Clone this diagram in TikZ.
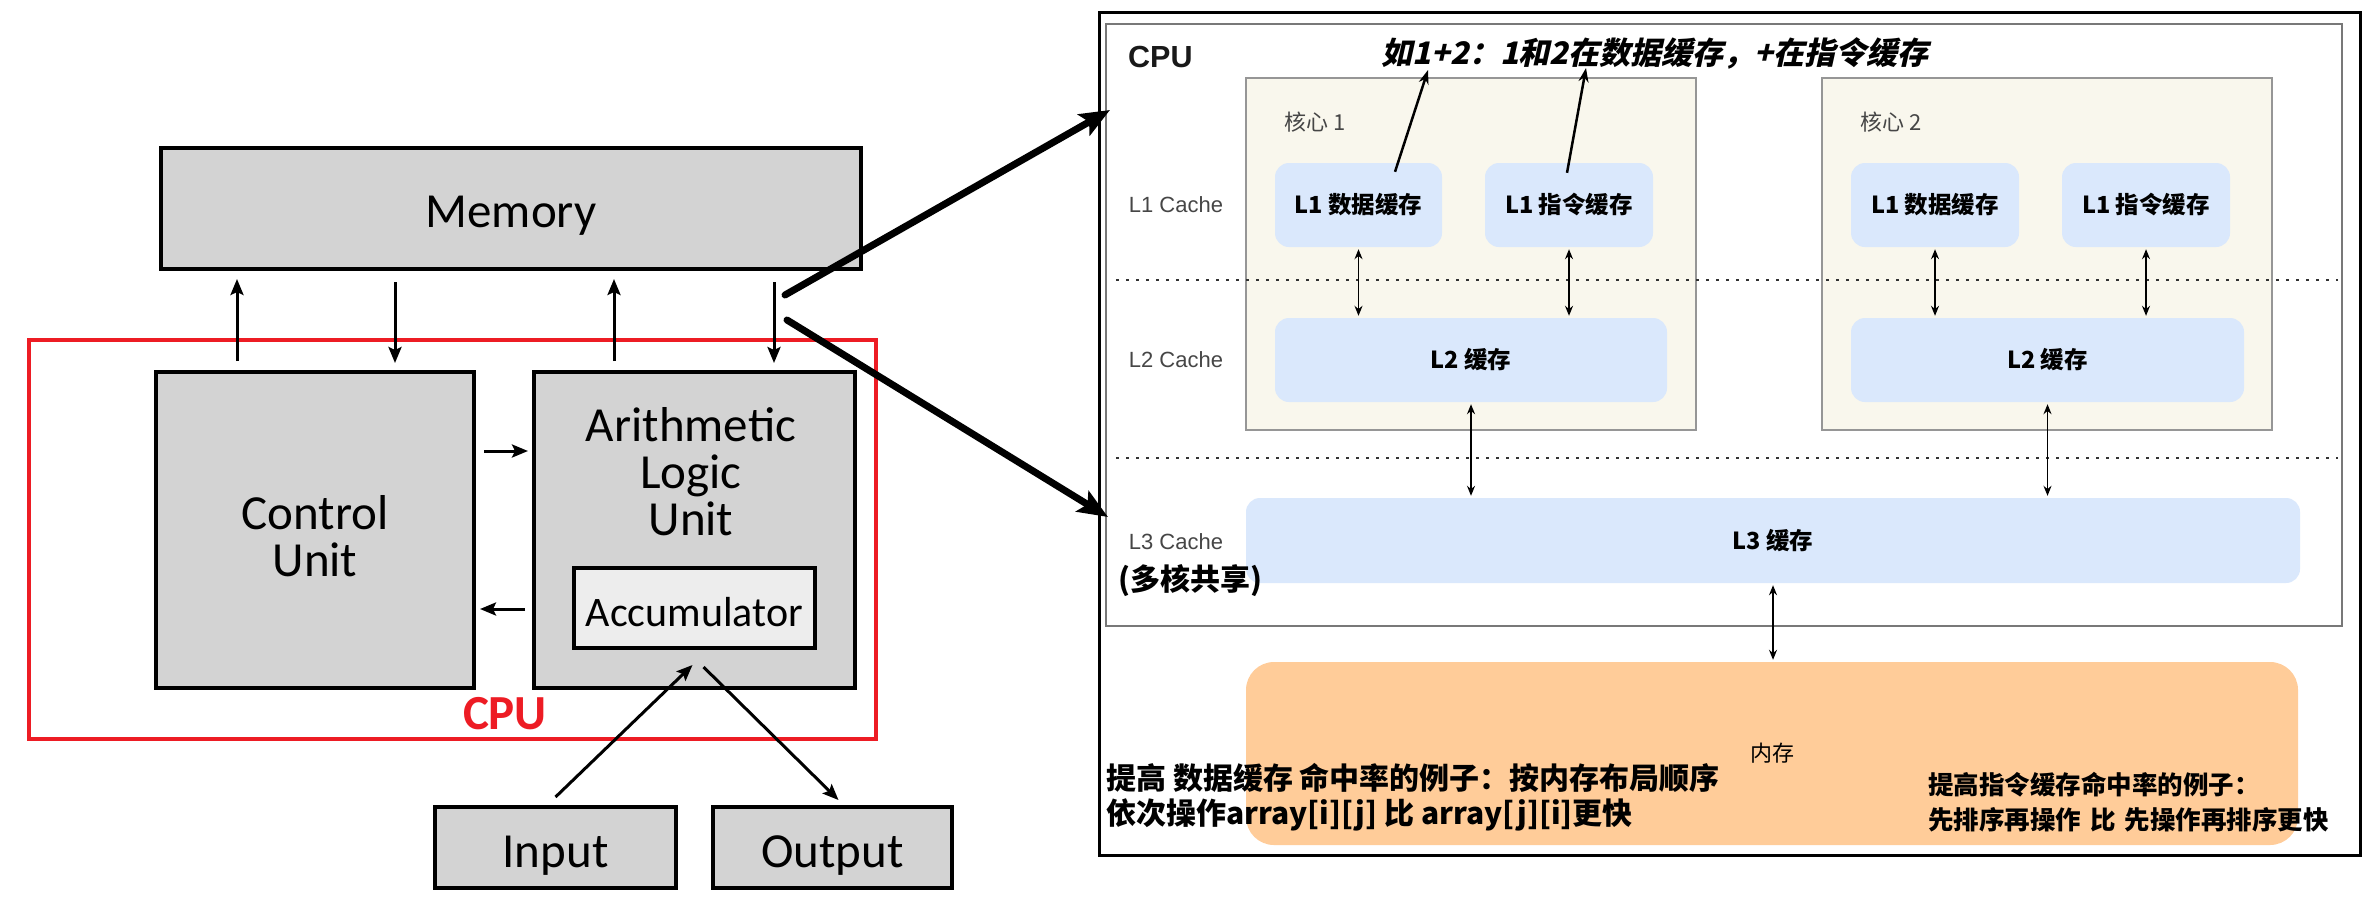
\documentclass[tikz,border=0pt]{standalone}
\usepackage{fontspec}
\setmainfont{Carlito}
\newfontfamily\lib{Liberation Sans}
\newfontfamily\cjk{Noto Sans CJK SC}
\newfontfamily\cjkbi{Noto Sans CJK SC}[FakeSlant=0.22]
\usetikzlibrary{arrows.meta,calc}
\definecolor{boxgray}{RGB}{211,211,211}
\definecolor{accgray}{RGB}{237,237,237}
\definecolor{cpured}{RGB}{237,28,36}
\definecolor{corefill}{RGB}{249,247,237}
\definecolor{coreline}{RGB}{150,150,150}
\definecolor{innerline}{RGB}{120,120,120}
\definecolor{cachefill}{RGB}{218,232,252}
\definecolor{memfill}{RGB}{255,204,153}
\definecolor{labgray}{RGB}{70,70,70}
\begin{document}
\begin{tikzpicture}[x=1pt,y=-1pt,
  gbox/.style={draw=black, line width=4pt, fill=boxgray, inner sep=0pt, outer sep=0pt},
  gtext/.style={inner sep=0pt, align=center, font=\fontsize{49}{47}\selectfont},
  larr/.style={line width=3pt, -{Stealth[length=16pt,width=13pt,inset=3pt]}},
  bigarr/.style={line width=7pt, line cap=round, -{Stealth[length=30pt,width=24pt,inset=6pt]}},
  core/.style={draw=coreline, line width=1.5pt, fill=corefill, inner sep=0pt},
  cache/.style={fill=cachefill, rounded corners=14pt, inner sep=0pt, minimum height=84pt, font=\cjk\bfseries\fontsize{23.5}{23.5}\selectfont},
  levlab/.style={text=labgray, inner sep=0pt, font=\lib\fontsize{22}{22}\selectfont},
  rarr/.style={line width=1.3pt, {Stealth[length=10pt,width=8pt]}-{Stealth[length=10pt,width=8pt]}},
  annarr/.style={line width=2.5pt, -{Stealth[length=14pt,width=10pt]}},
  dotline/.style={line width=2.8pt, black!80, dash pattern=on 2.8pt off 7.2pt},
  bigtext/.style={anchor=west, inner sep=0pt, font=\cjk\bfseries\fontsize{30}{30}\selectfont},
  smalltext/.style={anchor=west, inner sep=0pt, font=\cjk\bfseries\fontsize{25.5}{25.5}\selectfont}
]
\useasboundingbox (0,0) rectangle (2365,916);
\fill[white] (0,0) rectangle (2365,916);

% ---------------- left: von Neumann ----------------
\node[draw=cpured, line width=4pt, minimum width=847pt, minimum height=399pt, inner sep=0pt] (cpubox) at (452.5,539.5) {};
\node[gbox, minimum width=700pt, minimum height=121pt] (mem) at (511,208.5) {};
\node[gtext] (memt) at (511,216) {Memory};
\node[gbox, minimum width=318pt, minimum height=316pt] (cu) at (315,530) {};
\node[gtext] (cut) at (315,536) {Control\\Unit};
\node[gbox, minimum width=321pt, minimum height=316pt] (alu) at (694.5,530) {};
\node[gtext] (alut) at (691,472) {Arithmetic\\Logic\\Unit};
\node[draw=black, line width=4pt, fill=accgray, minimum width=241pt, minimum height=80pt, inner sep=0pt] (acc) at (694.5,608) {};
\node[inner sep=0pt, font=\fontsize{42}{42}\selectfont] (acct) at (694.5,612) {Accumulator};
\node[gbox, minimum width=241pt, minimum height=81pt] (inp) at (555.5,847.5) {};
\node[gtext] (inpt) at (555.5,856) {Input};
\node[gbox, minimum width=239pt, minimum height=81pt] (outp) at (832.5,847.5) {};
\node[gtext] (outpt) at (832.5,856) {Output};
\node[text=cpured, inner sep=0pt, font=\bfseries\fontsize{49}{49}\selectfont] (cpulab) at (505,714) {CPU};

\draw[larr] ($(cu.north west)+(81,-11)$) -- ($(cu.north west |- mem.south)+(81,10)$);
\draw[larr] ($(cu.north west |- mem.south)+(239,13)$) -- ($(cu.north west)+(239,-9)$);
\draw[larr] ($(alu.north west)+(80,-11)$) -- ($(alu.north west |- mem.south)+(80,10)$);
\draw[larr] ($(alu.north west |- mem.south)+(240,13)$) -- ($(alu.north west)+(240,-9)$);
\draw[larr] ($(cu.north east)+(10,79)$) -- ($(alu.north west)+(-6,79)$);
\draw[larr] ($(alu.north west)+(-9,237)$) -- ($(cu.north east)+(6,237)$);
\draw[larr] ($(inp.north)+(0,-10)$) -- ($(acc.south)+(-2,15)$);
\draw[larr] ($(acc.south)+(9,17)$) -- ($(outp.north)+(6,-7)$);

% ---------------- right: cache hierarchy ----------------
\node[draw=black, line width=3pt, minimum width=1261pt, minimum height=843pt, inner sep=0pt] (outer) at (1729.5,433.5) {};
\node[draw=innerline, line width=2pt, minimum width=1236pt, minimum height=602pt, inner sep=0pt] (inner) at (1724,325) {};

\coordinate (bigA) at (1110,110);
\coordinate (bigB) at (1108,517);
\draw[bigarr] ($(mem.south east)+(-76,26)$) -- (bigA);
\draw[bigarr] ($(mem.south east)+(-74,51)$) -- (bigB);

\node[anchor=west, inner sep=0pt, text=black!90, font=\lib\bfseries\fontsize{30.5}{30.5}\selectfont] (cpur) at (1128,57) {CPU};
\node[inner sep=0pt, font=\cjkbi\bfseries\fontsize{31}{31}\selectfont] (title) at (1655,53) {如1+2：1和2在数据缓存，+在指令缓存};

\node[core, minimum width=450pt, minimum height=352pt] (core1) at (1471,254) {};
\node[core, minimum width=450pt, minimum height=352pt] (core2) at (2047,254) {};
\node[anchor=west, inner sep=0pt, text=labgray, font=\cjk\fontsize{22}{22}\selectfont] (k1) at (1284,122) {核心 1};
\node[anchor=west, inner sep=0pt, text=labgray, font=\cjk\fontsize{22}{22}\selectfont] (k2) at (1860,122) {核心 2};

\coordinate (d1a) at (1116,280); \coordinate (d1b) at (2338,280);
\coordinate (d2a) at (1116,458); \coordinate (d2b) at (2338,458);
\draw[dotline] (d1a) -- (d1b);
\draw[dotline] (d2a) -- (d2b);

\node[cache, minimum width=167pt] (L1d1) at (1358.5,205) {L1 数据缓存};
\node[cache, minimum width=168pt] (L1i1) at (1569,205) {L1 指令缓存};
\node[cache, minimum width=168pt] (L1d2) at (1935,205) {L1 数据缓存};
\node[cache, minimum width=168pt] (L1i2) at (2146,205) {L1 指令缓存};
\node[cache, minimum width=392pt] (L2a) at (1471,360) {L2 缓存};
\node[cache, minimum width=393pt] (L2b) at (2047.5,360) {L2 缓存};
\node[cache, minimum width=1054pt, minimum height=85pt] (L3) at (1773,540.5) {L3 缓存};
\node[fill=memfill, rounded corners=28pt, inner sep=0pt, minimum width=1052pt, minimum height=183pt, font=\cjk\fontsize{22}{22}\selectfont] (mem2) at (1772,753.5) {内存};

\node[levlab] (l1lab) at (1176,205) {L1 Cache};
\node[levlab] (l2lab) at (1176,360) {L2 Cache};
\node[levlab] (l3lab) at (1176,542) {L3 Cache};
\node[inner sep=0pt, font=\cjk\bfseries\fontsize{30}{30}\selectfont] (shared) at (1190,581) {(多核共享)};

\draw[rarr] ($(L1d1.south)+(0,2)$) -- ($(L1d1.south |- L2a.north)+(0,-2)$);
\draw[rarr] ($(L1i1.south)+(0,2)$) -- ($(L1i1.south |- L2a.north)+(0,-2)$);
\draw[rarr] ($(L1d2.south)+(0,2)$) -- ($(L1d2.south |- L2b.north)+(0,-2)$);
\draw[rarr] ($(L1i2.south)+(0,2)$) -- ($(L1i2.south |- L2b.north)+(0,-2)$);
\draw[rarr] ($(L2a.south)+(0,2)$) -- ($(L2a.south |- L3.north)+(0,-2)$);
\draw[rarr] ($(L2b.south)+(0,2)$) -- ($(L2b.south |- L3.north)+(0,-2)$);
\draw[rarr] ($(L3.south)+(0,2)$) -- ($(mem2.north -| L3.south)+(0,-2)$);

\coordinate (t1) at (1428,70);
\coordinate (t2) at (1586,68);
\draw[annarr] ($(L1d1.north)+(36.5,9)$) -- (t1);
\draw[annarr] ($(L1i1.north)+(-2,10)$) -- (t2);

\node[bigtext] (ex1a) at (1106,778) {提高 数据缓存 命中率的例子：按内存布局顺序};
\node[bigtext] (ex1b) at (1106,815) {依次操作array[i][j] 比 array[j][i]更快};
\node[smalltext] (ex2a) at (1928,785) {提高指令缓存命中率的例子：};
\node[smalltext] (ex2b) at (1928,820) {先排序再操作\hspace{0.35em}比\hspace{0.35em}先操作再排序更快};
\end{tikzpicture}
\end{document}
